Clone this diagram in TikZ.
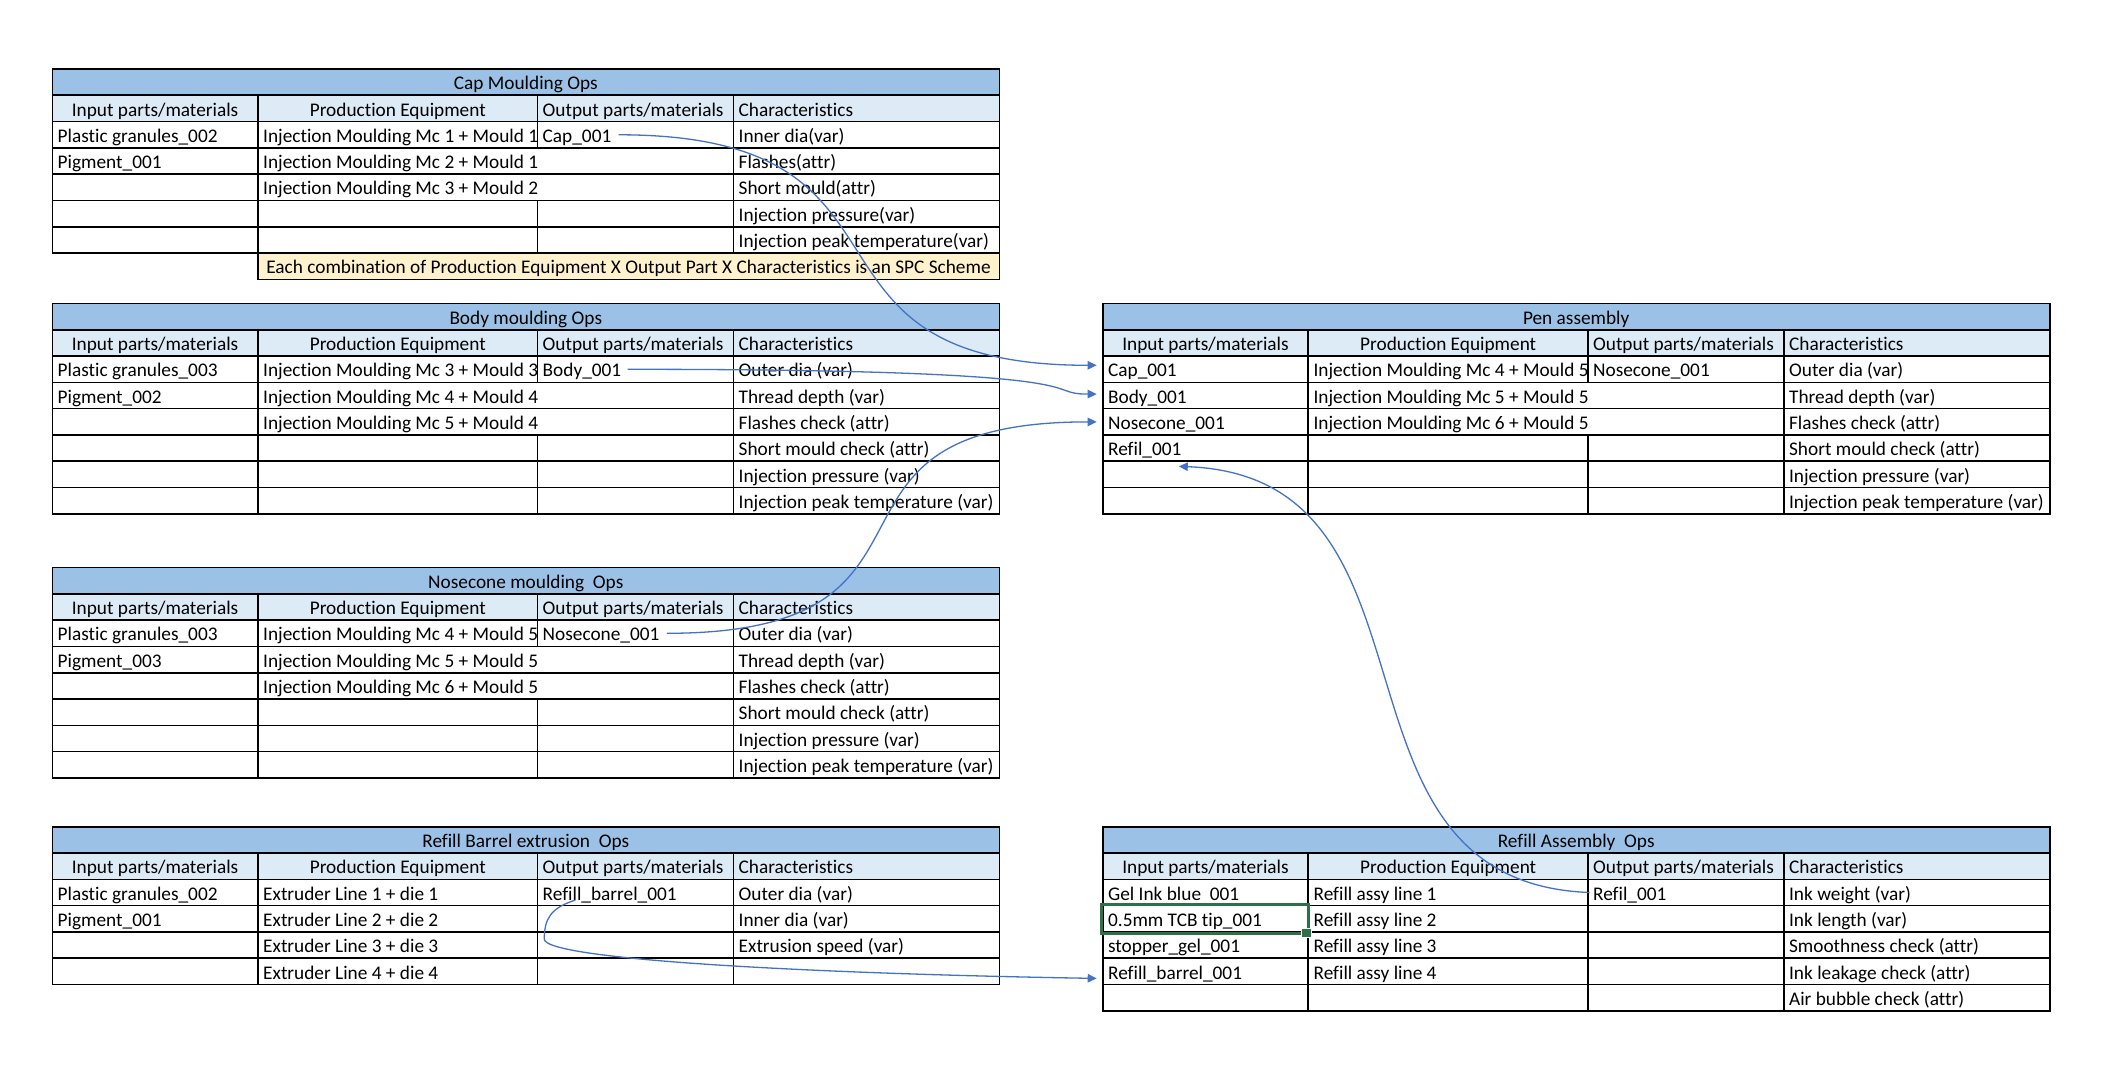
\documentclass[tikz,border=0pt]{standalone}
\usepackage{fontspec}
\setmainfont{Carlito}[Ligatures=NoCommon]
\usepackage{tikz}
\usetikzlibrary{calc,arrows.meta}
\definecolor{titlecolore}{HTML}{9BC2E6}
\definecolor{headcolore}{HTML}{DDEBF7}
\definecolor{notecolore}{HTML}{FFF2CC}
\definecolor{linkcolore}{HTML}{4472C4}
\definecolor{selectcolore}{HTML}{2E7048}
\colorlet{titlecolor}{titlecolore}
\colorlet{headcolor}{headcolore}
\colorlet{notecolor}{notecolore}
\colorlet{linkcolor}{linkcolore}
\colorlet{selectcolor}{selectcolore}
\tikzstyle{celltext} =[
    inner sep=0pt,
    anchor=base west,
    text height=10.2pt,
    text depth=2.6pt
    ]
\tikzstyle{headtext} = [celltext, anchor=base]
\tikzstyle{gridline} = [draw=black, line width=0.8pt]
\tikzstyle{link} = [
    draw=linkcolor,
    line width=0.65pt,
    -{Triangle[length=4.5pt,width=4.2pt]}
    ]
\tikzstyle{selectbox} = [draw=selectcolor, line width=1.35pt]
\newcommand{\trow}[5]{% row, input, equipment, output, characteristic
    \node[celltext] (\tabname-#1-1) at (5,{52.6+#1*26.3-5.5}) {#2};
    \def\tmp{#4}%
    \ifx\tmp\empty
        \node[celltext] (\tabname-#1-2) at (210.5,{52.6+#1*26.3-5.5}) {#3};
    \else
        \begin{scope}
        \clip (205.5,{26.3+#1*26.3}) rectangle (485,{52.6+#1*26.3});
        \node[celltext] (\tabname-#1-2) at (210.5,{52.6+#1*26.3-5.5}) {#3};
        \end{scope}
    \fi
    \node[celltext] (\tabname-#1-3) at (490,{52.6+#1*26.3-5.5}) {#4};
    \node[celltext] (\tabname-#1-4) at (686,{52.6+#1*26.3-5.5}) {#5};
}
\newcommand{\optable}[7]{% name, x, y, rows, title, rows with 3rd rule, cells
    \def\tabname{#1}%
    \coordinate (#1) at (#2,#3);
    \begin{scope}[shift={(#2,#3)}]
    \fill[titlecolor] (0,0) rectangle (947,26.3);
    \fill[headcolor] (0,26.3) rectangle (947,52.6);
    \node[headtext] (#1-title) at (473.5,20.8) {#5};
    \node[headtext] (#1-0-1) at (102.75,47.1) {Input parts/materials};
    \node[headtext] (#1-0-2) at (345.5,47.1) {Production Equipment};
    \node[celltext] (#1-0-3) at (490,47.1) {Output parts/materials};
    \node[celltext] (#1-0-4) at (686,47.1) {Characteristics};
    #7
    \draw[gridline] (0,26.3) -- (947,26.3);
    \foreach \ro in {1,...,#4}
        \draw[gridline] (0,{26.3+\ro*26.3}) -- (947,{26.3+\ro*26.3});
    \draw[gridline] (205.5,26.3) -- (205.5,{52.6+#4*26.3});
    \draw[gridline] (681,26.3) -- (681,{52.6+#4*26.3});
    \foreach \ro in {#6}
        \draw[gridline] (485,{26.3+\ro*26.3}) -- (485,{52.6+\ro*26.3});
    \draw[gridline] (0,0) rectangle (947,{52.6+#4*26.3});
    \end{scope}
}

\begin{document}
\begin{tikzpicture}[x=0.5pt, y=-0.5pt, font=\fontsize{9.65}{11}\selectfont]
\fill[white] (0,0) rectangle (2110,1080);
\useasboundingbox (0,0) rectangle (2110,1080);

\optable{cap}{52.3}{69}{5}{Cap Moulding Ops}{0,1,4,5}{%
    \trow{1}{Plastic granules\_002}{Injection Moulding Mc 1 + Mould 1}{Cap\_001}{Inner dia(var)}
    \trow{2}{Pigment\_001}{Injection Moulding Mc 2 + Mould 1}{}{Flashes(attr)}
    \trow{3}{}{Injection Moulding Mc 3 + Mould 2}{}{Short mould(attr)}
    \trow{4}{}{}{}{Injection pressure(var)}
    \trow{5}{}{}{}{Injection peak temperature(var)}
}
\draw[gridline, fill=notecolor] ($(cap)+(205.5,184.1)$) rectangle ($(cap)+(947,210.4)$);
\node[headtext] (cap-note) at ($(cap)+(576.25,204.9)$)
    {Each combination of Production Equipment X Output Part X Characteristics is an SPC Scheme};

\optable{body}{52.3}{303.5}{6}{Body moulding Ops}{0,1,4,5,6}{%
    \trow{1}{Plastic granules\_003}{Injection Moulding Mc 3 + Mould 3}{Body\_001}{Outer dia (var)}
    \trow{2}{Pigment\_002}{Injection Moulding Mc 4 + Mould 4}{}{Thread depth (var)}
    \trow{3}{}{Injection Moulding Mc 5 + Mould 4}{}{Flashes check (attr)}
    \trow{4}{}{}{}{Short mould check (attr)}
    \trow{5}{}{}{}{Injection pressure (var)}
    \trow{6}{}{}{}{Injection peak temperature (var)}
}

\optable{nose}{52.3}{567.5}{6}{Nosecone moulding\ \ Ops}{0,1,4,5,6}{%
    \trow{1}{Plastic granules\_003}{Injection Moulding Mc 4 + Mould 5}{Nosecone\_001}{Outer dia (var)}
    \trow{2}{Pigment\_003}{Injection Moulding Mc 5 + Mould 5}{}{Thread depth (var)}
    \trow{3}{}{Injection Moulding Mc 6 + Mould 5}{}{Flashes check (attr)}
    \trow{4}{}{}{}{Short mould check (attr)}
    \trow{5}{}{}{}{Injection pressure (var)}
    \trow{6}{}{}{}{Injection peak temperature (var)}
}

\optable{bar}{52.3}{826.7}{4}{Refill Barrel extrusion\ \ Ops}{0,...,4}{%
    \trow{1}{Plastic granules\_002}{Extruder Line 1 + die 1}{Refill\_barrel\_001}{Outer dia (var)}
    \trow{2}{Pigment\_001}{Extruder Line 2 + die 2}{}{Inner dia (var)}
    \trow{3}{}{Extruder Line 3 + die 3}{}{Extrusion speed (var)}
    \trow{4}{}{Extruder Line 4 + die 4}{}{}
}

\optable{pen}{1102.7}{303.5}{6}{Pen assembly}{0,1,4,5,6}{%
    \trow{1}{Cap\_001}{Injection Moulding Mc 4 + Mould 5}{Nosecone\_001}{Outer dia (var)}
    \trow{2}{Body\_001}{Injection Moulding Mc 5 + Mould 5}{}{Thread depth (var)}
    \trow{3}{Nosecone\_001}{Injection Moulding Mc 6 + Mould 5}{}{Flashes check (attr)}
    \trow{4}{Refil\_001}{}{}{Short mould check (attr)}
    \trow{5}{}{}{}{Injection pressure (var)}
    \trow{6}{}{}{}{Injection peak temperature (var)}
}

\optable{assy}{1102.7}{826.7}{5}{Refill Assembly\ \ Ops}{0,...,5}{%
    \trow{1}{Gel Ink blue\ \ 001}{Refill assy line 1}{Refil\_001}{Ink weight (var)}
    \trow{2}{0.5mm TCB tip\_001}{Refill assy line 2}{}{Ink length (var)}
    \trow{3}{stopper\_gel\_001}{Refill assy line 3}{}{Smoothness check (attr)}
    \trow{4}{Refill\_barrel\_001}{Refill assy line 4}{}{Ink leakage check (attr)}
    \trow{5}{}{}{}{Air bubble check (attr)}
}

% selected cell
\draw[selectbox] ($(assy)+(-1.5,77.8)$) rectangle ($(assy)+(205.5,107)$);
\draw[fill=selectcolor, draw=white, line width=0.4pt] ($(assy)+(199,101.6)$) rectangle ($(assy)+(209,111)$);

% links between tables
\draw[link] ($(cap-1-3.east)+(7,0)$) .. controls +(326,0) and +(-326,0) .. ($(pen-1-1.west)+(-11,-4)$);
\draw[link] ($(body-1-3.east)+(6,0)$) .. controls +(500,0) and +(-60,0) .. ($(pen-2-1.west)+(-11,-1.5)$);
\draw[link] ($(nose-1-3.east)+(7,0)$) .. controls +(313,0) and +(-313,0) .. ($(pen-3-1.west)+(-11,0)$);
\draw[link] ($(assy-1-3.west)+(-3,0)$) .. controls +(-280,-10) and +(280,10) .. ($(pen-4-1.south east)+(-3,5)$);
\coordinate (barstart) at ($(bar-1-3.base west)+(33,0)$);
\coordinate (barbend) at ($(barstart)+(-31,39)$);
\draw[link] (barstart) .. controls +(-25,8) and +(0,-20) .. (barbend)
    .. controls +(0,20) and +(-297,-5) .. ($(assy-4-1.west)+(-11,7)$);
\end{tikzpicture}
\end{document}
